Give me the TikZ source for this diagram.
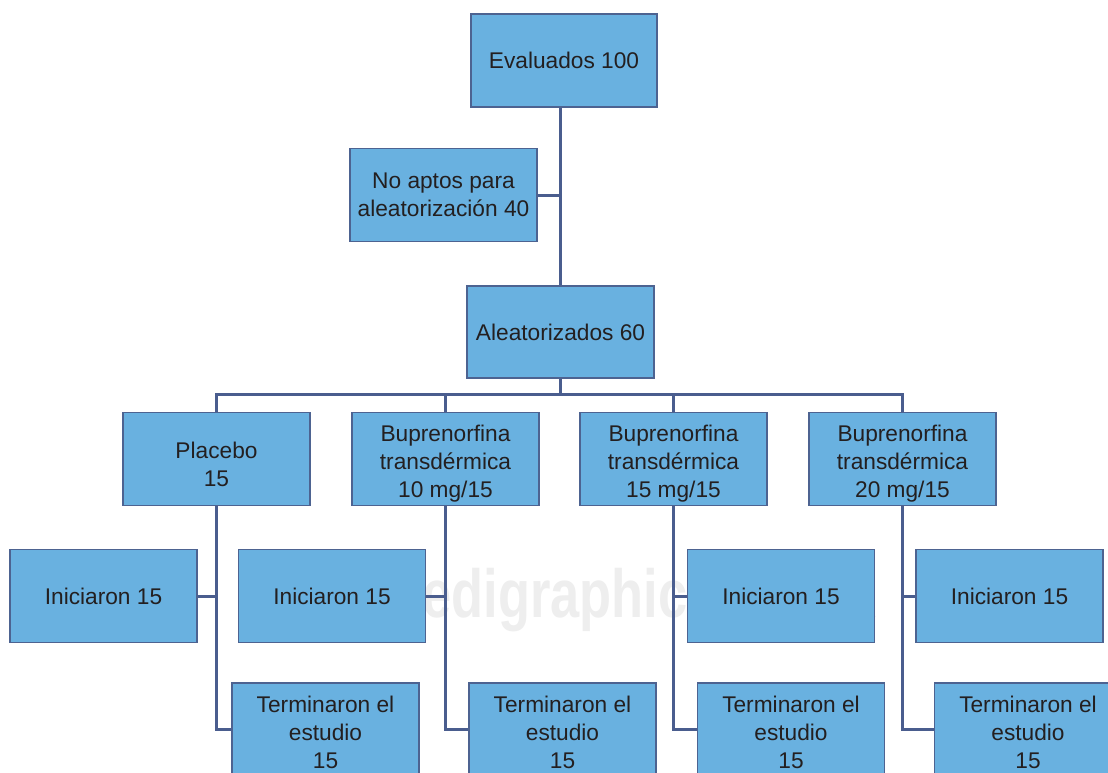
\documentclass[tikz,border=0pt]{standalone}
\usepackage{fontspec}
\setmainfont{Liberation Sans}
\newfontfamily\wmfont{Liberation Sans}
\definecolor{boxfill}{HTML}{69B1E0}
\definecolor{boxline}{HTML}{4D6391}
\definecolor{connline}{HTML}{4A5D8E}
\definecolor{textcol}{HTML}{231F20}
\definecolor{wmcol}{HTML}{EEEEEE}
\newcommand\topstrut[1]{\rule{0pt}{#1}}
\begin{document}
\begin{tikzpicture}[x=1pt,y=-1pt,
  box/.style={draw=boxline, line width=1.5pt, fill=boxfill, minimum width=187pt,
    minimum height=93pt, inner sep=0pt, align=center, text=textcol,
    font=\fontsize{22.7}{28.3}\selectfont},
  conn/.style={draw=connline, line width=3pt}]
\useasboundingbox (0,0) rectangle (1108,772);
\clip (0,0) rectangle (1108,772);
\fill[white] (0,0) rectangle (1108,772);
% watermark
\node[anchor=base west, inner sep=0pt, text=wmcol, xscale=0.77,
  font=\wmfont\bfseries\fontsize{68}{68}\selectfont] (wm) at (241,617) {www.medigraphic.org.mx};
% boxes
\node[box, minimum width=186pt] (ev) at (564,60.5) {Evaluados 100};
\node[box] (noapt) at (443.5,195) {No aptos para\\aleatorización 40};
\node[box, minimum height=92pt] (alea) at (560.5,332) {Aleatorizados 60};
\node[box] (plac) at (216.5,459) {\topstrut{27pt}Placebo\\15};
\node[box] (b10) at (445.5,459) {\topstrut{26pt}Buprenorfina\\transdérmica\\10 mg/15};
\node[box] (b15) at (673.5,459) {\topstrut{26pt}Buprenorfina\\transdérmica\\15 mg/15};
\node[box] (b20) at (902.5,459) {\topstrut{26pt}Buprenorfina\\transdérmica\\20 mg/15};
\node[box] (i1) at (103.5,596) {Iniciaron 15};
\node[box] (i2) at (332,596) {Iniciaron 15};
\node[box] (i3) at (781,596) {Iniciaron 15};
\node[box] (i4) at (1009.5,596) {Iniciaron 15};
\node[box] (t1) at (325.5,729.5) {\topstrut{22.5pt}Terminaron el\\estudio\\15};
\node[box] (t2) at (562.5,729.5) {\topstrut{22.5pt}Terminaron el\\estudio\\15};
\node[box] (t3) at (791,729.5) {\topstrut{22.5pt}Terminaron el\\estudio\\15};
\node[box] (t4) at (1028,729.5) {\topstrut{22.5pt}Terminaron el\\estudio\\15};
% connectors
\coordinate (bus) at (560.5,394);
\draw[conn] (ev.south -| alea.north) -- (alea.north);
\draw[conn] (noapt.east) -- (noapt.east -| alea.north);
\draw[conn] (alea.south) -- (bus);
\draw[conn] (plac.north) |- (bus) -| (b20.north);
\draw[conn] (b10.north) -- (b10.north |- bus);
\draw[conn] (b15.north) -- (b15.north |- bus);
\draw[conn] (plac.south) |- (t1.west);
\draw[conn] (i1.east) -- (i1.east -| plac.south);
\draw[conn] (b10.south) |- (t2.west);
\draw[conn] (i2.east) -- (i2.east -| b10.south);
\draw[conn] (b15.south) |- (t3.west);
\draw[conn] (i3.west) -- (i3.west -| b15.south);
\draw[conn] (b20.south) |- (t4.west);
\draw[conn] (i4.west) -- (i4.west -| b20.south);
\end{tikzpicture}
\end{document}
